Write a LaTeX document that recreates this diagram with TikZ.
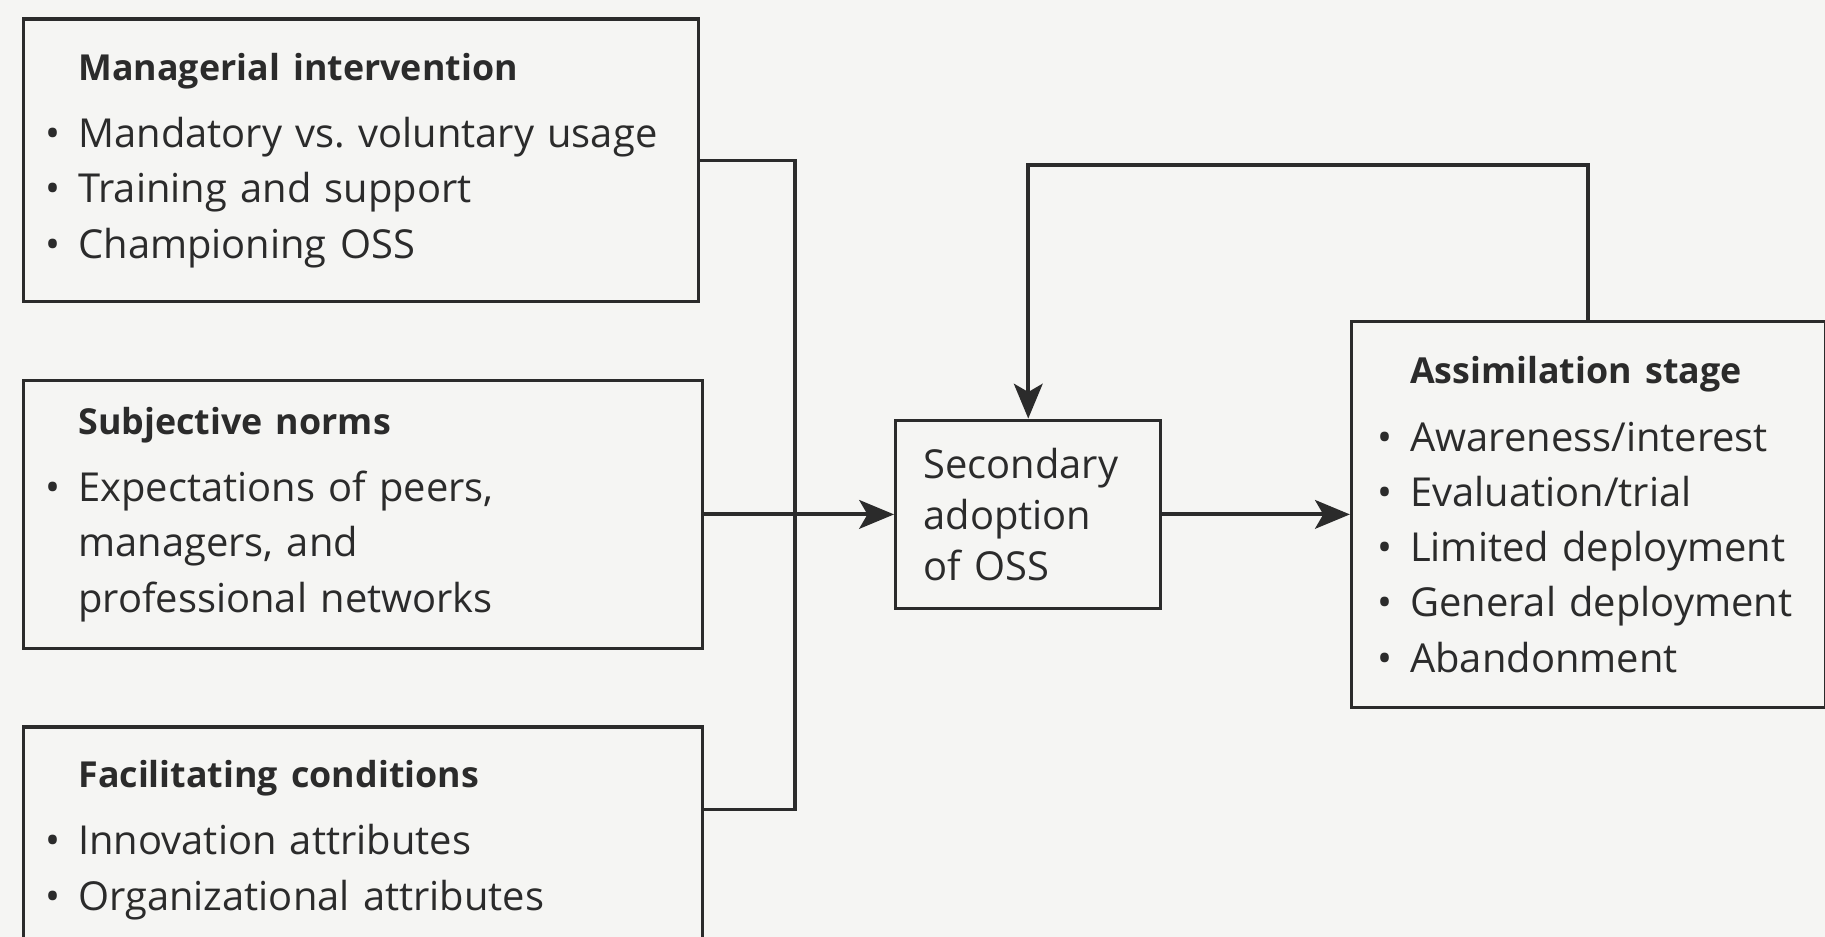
\documentclass[tikz,border=0pt]{standalone}
\usepackage{fontspec}
\setmainfont{Open Sans}
\usepackage{tikz}
\usetikzlibrary{positioning,calc,arrows.meta}
\definecolor{ink}{HTML}{2B2B2B}
\definecolor{paper}{HTML}{F5F5F3}
\newcommand{\itm}{\makebox[0.56cm][l]{\textbullet}}
\newcommand{\ind}{\hspace*{0.56cm}}
\newcommand{\ttl}[1]{{\fontsize{17.5}{27}\selectfont\bfseries #1}}
\tikzset{
  factor/.style={draw=ink, line width=1.5pt, align=left, anchor=north west,
    inner ysep=0pt, text=ink, font=\fontsize{19.5}{27}\selectfont},
  link/.style={draw=ink, line width=1.7pt},
  arr/.style={link, line width=2pt, -{Stealth[length=17pt,width=14pt,inset=4pt]}},
}

\begin{document}
\begin{tikzpicture}

  \useasboundingbox (0,0) rectangle (31.36,-16.1);
  \fill[paper] (0,0) rectangle (31.36,-16.1);

  % Define nodes
  \node[factor, text width=10.84cm, inner xsep=0.38cm, minimum height=4.86cm] (MI) at (0.38,-0.30)
    {\ind\ttl{Managerial intervention}\\[6pt]
     \itm Mandatory vs.\ voluntary usage\\
     \itm Training and support\\
     \itm Championing OSS};
  \node[factor, below=1.3 of MI.south west, anchor=north west, text width=10.91cm, inner xsep=0.38cm, minimum height=4.6cm] (SN)
    {\ind\ttl{Subjective norms}\\[6pt]
     \itm Expectations of peers,\\
     \ind managers, and\\
     \ind professional networks};
  \node[factor, below=1.3 of SN.south west, anchor=north west, text width=10.91cm, inner xsep=0.38cm, minimum height=3.88cm] (FC)
    {\ind\ttl{Facilitating conditions}\\[6pt]
     \itm Innovation attributes\\
     \itm Organizational attributes};
  \node[factor, right=3.26 of SN, text width=3.6cm, inner xsep=0.48cm, minimum height=3.24cm,
    font=\fontsize{19.5}{25}\selectfont] (Sec)
    {Secondary\\ adoption\\ of OSS};
  \node[factor, right=3.22 of Sec, text width=7.24cm, inner xsep=0.45cm, minimum height=6.64cm] (AS)
    {\ind\ttl{Assimilation stage}\\[6pt]
     \itm Awareness/interest\\
     \itm Evaluation/trial\\
     \itm Limited deployment\\
     \itm General deployment\\
     \itm Abandonment};

  \coordinate (jn) at (13.66,0);
  \coordinate (fcout) at ($(FC.north east)+(0,-1.44)$);

  % Connect the nodes
  \draw[link] (MI.east) -- (MI.east -| jn) -- (fcout -| jn) -- (fcout);
  \draw[arr] (SN.east) -- (Sec.west);
  \draw[arr] (Sec.east) -- (AS.west);
  \draw[arr] (AS.north) -- ++(0,2.66) -| (Sec.north);

\end{tikzpicture}
\end{document}
